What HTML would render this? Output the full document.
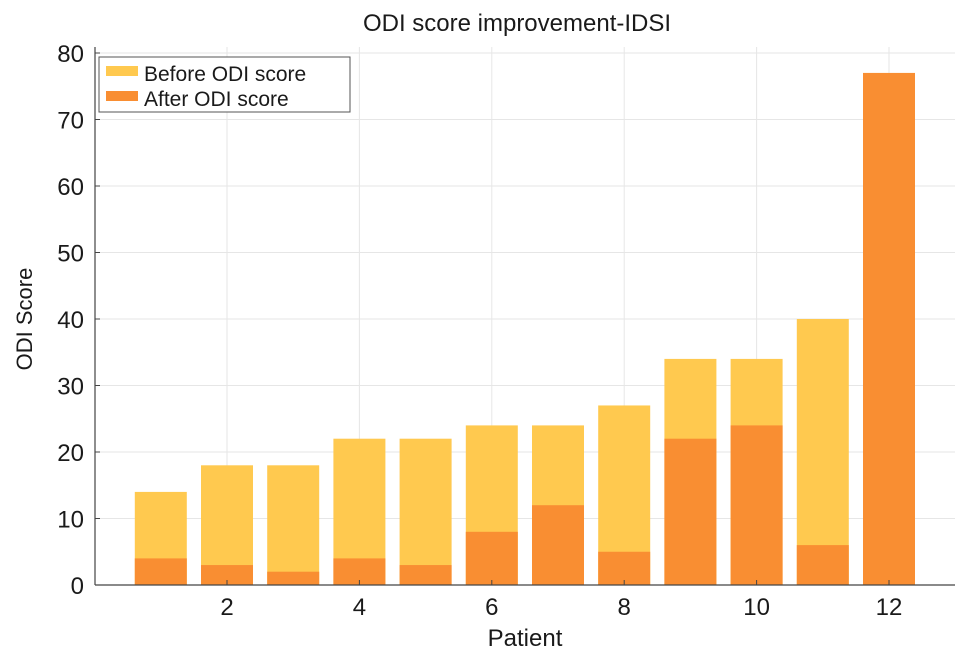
<!DOCTYPE html>
<html><head><meta charset="utf-8"><style>
body{margin:0;background:#fff}
svg text{font-family:"Liberation Sans",sans-serif;fill:#1a1a1a}
</style></head><body>
<svg width="969" height="663" id="c">
<text x="517" y="31" font-size="24" text-anchor="middle">ODI score improvement-IDSI</text>
<text x="32" y="319" font-size="22" text-anchor="middle" transform="rotate(-90 32 319)">ODI Score</text>
<text x="525" y="646" font-size="24" text-anchor="middle">Patient</text>
<g id="grid"></g><g id="bars"></g><g id="axes"></g>
<g>
<rect x="99" y="57" width="251" height="55" fill="#fff" stroke="#555" stroke-width="1"/>
<rect x="106" y="66" width="32" height="10" fill="#FFC94F"/>
<text x="144" y="81" font-size="21">Before ODI score</text>
<rect x="106" y="91" width="32" height="10" fill="#F98E32"/>
<text x="144" y="106" font-size="21">After ODI score</text>
</g>
</svg>
<script>
const patients=[1,2,3,4,5,6,7,8,9,10,11,12];
const before=[14,18,18,22,22,24,24,27,34,34,40,77];
const after=[4,3,2,4,3,8,12,5,22,24,6,77];
const yTicks=[0,10,20,30,40,50,60,70,80];
const xTicks=[2,4,6,8,10,12];
const NS="http://www.w3.org/2000/svg";
const X=v=>94.6+v*66.2, Y=v=>585-v*6.65;
function mk(t,a,p){const e=document.createElementNS(NS,t);for(const k in a)e.setAttribute(k,a[k]);p.appendChild(e);return e;}
const grid=document.getElementById('grid'),bars=document.getElementById('bars'),axes=document.getElementById('axes');
yTicks.forEach(v=>{
 const l=mk('line',{x1:95,x2:955,y1:Y(v),y2:Y(v),stroke:'#e6e6e6','stroke-width':1},grid);
 
 
 const t=mk('text',{x:84,y:Y(v)+9,'font-size':24,'text-anchor':'end'},axes);t.textContent=v;
 
 
 mk('line',{x1:95,x2:100,y1:Y(v),y2:Y(v),stroke:'#444'},axes);
});
xTicks.forEach(v=>{
 const l=mk('line',{x1:X(v),x2:X(v),y1:47,y2:585,stroke:'#e6e6e6','stroke-width':1},grid);
 
 
 const t=mk('text',{x:X(v),y:615,'font-size':24,'text-anchor':'middle'},axes);t.textContent=v;
 
 
 mk('line',{x1:X(v),x2:X(v),y1:585,y2:580,stroke:'#444'},axes);
});
const bw=52;
patients.forEach((p,i)=>{
 const b=mk('rect',{x:X(p)-bw/2,y:Y(before[i]),width:bw,height:Y(0)-Y(before[i]),fill:'#FFC94F'},bars);
 
 
 const a=mk('rect',{x:X(p)-bw/2,y:Y(after[i]),width:bw,height:Y(0)-Y(after[i]),fill:'#F98E32'},bars);
 
 
});
const ya=mk('line',{x1:95,x2:95,y1:47,y2:585,stroke:'#444','stroke-width':1.2},axes);


const xa=mk('line',{x1:95,x2:955,y1:585,y2:585,stroke:'#444','stroke-width':1.2},axes);


</script>
</body></html>
